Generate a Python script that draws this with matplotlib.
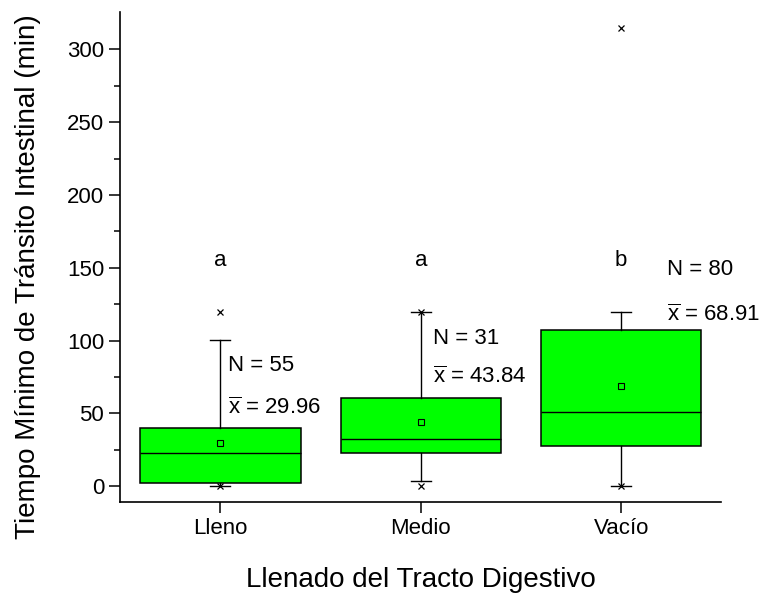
import matplotlib.pyplot as plt

plt.rcParams['font.family'] = ['Liberation Sans', 'DejaVu Sans']
plt.rcParams['mathtext.fontset'] = 'custom'
plt.rcParams['mathtext.rm'] = 'Liberation Sans'

groups = ['Lleno', 'Medio', 'Vacío']
q1 = [2.5, 22.5, 27.5]
medians = [22.5, 32.3, 51.0]
q3 = [40.3, 60.7, 107.6]
whisk_lo = [0, 3.4, 0]
whisk_hi = [100.3, 119.7, 119.7]
means = [29.96, 43.84, 68.91]
extremes = [[0, 120], [0, 120], [0, 315]]
counts = [55, 31, 80]
letters = ['a', 'a', 'b']


def main():
    fig = plt.figure(figsize=(7.61, 5.94), dpi=100)
    ax = fig.add_axes([0.158, 0.155, 0.79, 0.824])

    stats = []
    for i, g in enumerate(groups):
        stats.append(dict(label=g, q1=q1[i], med=medians[i], q3=q3[i],
                          whislo=whisk_lo[i], whishi=whisk_hi[i],
                          mean=means[i], fliers=extremes[i]))

    pos = [1, 2, 3]
    ax.bxp(stats, positions=pos, widths=0.8, patch_artist=True,
           showmeans=True, capwidths=0.1,
           boxprops=dict(facecolor='#00ff00', edgecolor='black', linewidth=1.1),
           medianprops=dict(color='black', linewidth=1.0),
           whiskerprops=dict(color='black', linewidth=1.0),
           capprops=dict(color='black', linewidth=1.0),
           meanprops=dict(marker='s', markersize=4, markerfacecolor='none',
                          markeredgecolor='black', markeredgewidth=0.8),
           flierprops=dict(marker='x', markersize=5, markeredgecolor='black',
                           markeredgewidth=0.9))

    # significance letters and sample stats
    letter_y = [155, 155, 155]
    n_pos = [(1.04, 83), (2.06, 101.7), (3.23, 149)]
    m_pos = [(1.04, 53.6), (2.06, 75), (3.23, 117.5)]
    for i in range(3):
        ax.text(pos[i], letter_y[i], letters[i], ha='center', va='center', fontsize=16)
        ax.text(n_pos[i][0], n_pos[i][1], 'N = %d' % counts[i], ha='left', va='center', fontsize=16)
        ax.text(m_pos[i][0], m_pos[i][1], r'$\overline{\mathrm{x}}$ = %.2f' % means[i],
                ha='left', va='center', fontsize=16)

    ax.set_xlim(0.5, 3.5)
    ax.set_ylim(-10.8, 325.4)
    ax.set_yticks([0, 50, 100, 150, 200, 250, 300])
    ax.set_yticks([25, 75, 125, 175, 225, 275], minor=True)
    ax.set_xticks(pos)
    ax.set_xticklabels(groups)

    ax.spines['top'].set_visible(False)
    ax.spines['right'].set_visible(False)
    ax.spines['left'].set_linewidth(1.2)
    ax.spines['bottom'].set_linewidth(1.2)
    ax.tick_params(axis='both', which='major', direction='out', length=8, width=1.1, labelsize=16)
    ax.tick_params(axis='y', which='minor', direction='out', length=4, width=1.1)

    ax.set_xlabel('Llenado del Tracto Digestivo', fontsize=20, labelpad=20)
    ax.set_ylabel('Tiempo Mínimo de Tránsito Intestinal (min)', fontsize=20)
    ax.yaxis.set_label_coords(-0.131, 0.46)

    fig.savefig('out.png', dpi=100)


if __name__ == "__main__":
    main()
